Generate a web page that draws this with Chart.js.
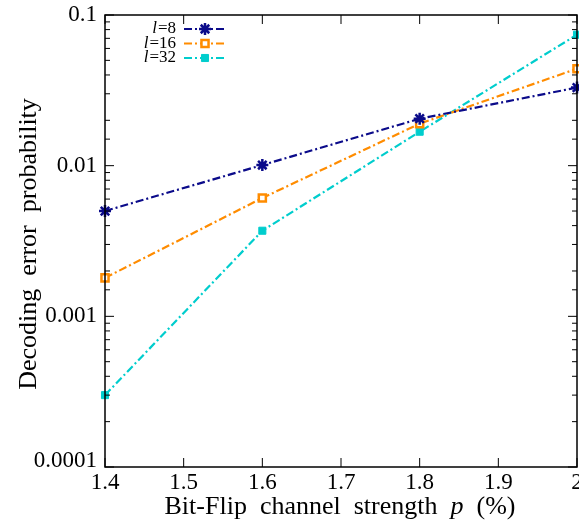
<!DOCTYPE html>
<html>
<head>
<meta charset="utf-8">
<script src="https://cdn.jsdelivr.net/npm/chart.js@4/dist/chart.umd.min.js"></script>
<style>
  html, body { margin: 0; padding: 0; background: #fff; }
  #wrap { width: 579px; height: 521px; }
</style>
</head>
<body>
<div id="wrap"><canvas id="chart" width="579" height="521"></canvas></div>
<script>
// values
const strengths = [1.4, 1.6, 1.8, 2.0];
const errL8 = [0.0050, 0.0101, 0.0205, 0.033];
const errL16 = [0.0018, 0.0061, 0.019, 0.044];
const errL32 = [0.0003, 0.0037, 0.0168, 0.074];
const seriesNames = ['8', '16', '32'];
const yTickLabels = { 0.1: '0.1', 0.01: '0.01', 0.001: '0.001', 0.0001: '0.0001' };

const serif = "'Liberation Serif', 'DejaVu Serif', serif";
const dashDot = [8, 3, 2, 3];

function toPoints(ys) {
    return strengths.map((x, i) => ({ x: x, y: ys[i] }));
}

const datasets = [
    { label: seriesNames[0], data: toPoints(errL8), borderColor: '#0b0b8a', backgroundColor: '#0b0b8a',
      pointStyle: 'star', pointRadius: 6, pointBorderWidth: 2.5 },
    { label: seriesNames[1], data: toPoints(errL16), borderColor: '#ff8c00', backgroundColor: '#ffffff',
      pointStyle: 'rect', pointRadius: 5, pointBorderWidth: 2.5 },
    { label: seriesNames[2], data: toPoints(errL32), borderColor: '#00cdcd', backgroundColor: '#00cdcd',
      pointStyle: 'rect', pointRadius: 5, pointBorderWidth: 1 }
];
datasets.forEach(d => {
    d.borderWidth = 2.2;
    d.borderDash = dashDot;
    d.fill = false;
    d.tension = 0;
    d.pointBorderColor = d.borderColor;
    d.pointBackgroundColor = d.backgroundColor;
});

// box, inward ticks on all four sides and the tick labels
const frame = {
    id: 'frame',
    afterDraw(chart) {
        const c = chart.ctx;
        const a = chart.chartArea;
        const xs = chart.scales.x, ys = chart.scales.y;
        c.save();
        c.strokeStyle = '#000';
        c.lineWidth = 1.5;
        c.strokeRect(a.left, a.top, a.right - a.left, a.bottom - a.top);
        c.lineWidth = 1;
        c.beginPath();
        xs.ticks.forEach(t => {
            const px = xs.getPixelForValue(t.value);
            c.moveTo(px, a.bottom); c.lineTo(px, a.bottom - 9);
            c.moveTo(px, a.top); c.lineTo(px, a.top + 9);
        });
        ys.ticks.forEach(t => {
            const py = ys.getPixelForValue(t.value);
            const major = yTickLabels[t.value] !== undefined;
            const len = major ? 9 : 5;
            c.moveTo(a.left, py); c.lineTo(a.left + len, py);
            c.moveTo(a.right, py); c.lineTo(a.right - len, py);
        });
        c.stroke();

        c.fillStyle = '#000';
        c.font = '23px ' + serif;
        c.textBaseline = 'middle';
        c.textAlign = 'right';
        ys.ticks.forEach(t => {
            const txt = yTickLabels[t.value];
            if (txt === undefined) return;
            const py = Math.min(ys.getPixelForValue(t.value), a.bottom - 6);
            c.fillText(txt, a.left - 8, py);
        });
        c.textAlign = 'center';
        xs.ticks.forEach(t => {
            const txt = Math.abs(t.value - 2) < 1e-9 ? '2' : t.value.toFixed(1);
            c.fillText(txt, xs.getPixelForValue(t.value), a.bottom + 16);
        });
        c.restore();
    }
};

// axis titles drawn by hand so the p can be italic
const titles = {
    id: 'titles',
    afterDraw(chart) {
        const c = chart.ctx;
        c.save();
        c.fillStyle = '#000';
        c.textBaseline = 'middle';
        const parts = [['Bit-Flip  channel  strength  ', ''], ['p', 'italic '], ['  (%)', '']];
        const size = '26px ';
        let total = 0;
        parts.forEach(p => { c.font = p[1] + size + serif; total += c.measureText(p[0]).width; });
        let x = 340 - total / 2;
        c.textAlign = 'left';
        parts.forEach(p => {
            c.font = p[1] + size + serif;
            c.fillText(p[0], x, 507);
            x += c.measureText(p[0]).width;
        });
        c.translate(29, 244);
        c.rotate(-Math.PI / 2);
        c.textAlign = 'center';
        c.font = size + serif;
        c.fillText('Decoding  error  probability', 0, 0);
        c.restore();
    }
};

// gnuplot-style key: label right aligned, then the line sample with its marker
const key = {
    id: 'key',
    afterDraw(chart) {
        const c = chart.ctx;
        c.save();
        chart.data.datasets.forEach((d, i) => {
            const y = 29 + i * 14.5;
            c.font = '17px ' + serif;
            c.fillStyle = '#000';
            c.textBaseline = 'middle';
            c.textAlign = 'right';
            const rest = '=' + d.label;
            c.fillText(rest, 176, y);
            const w = c.measureText(rest).width;
            c.font = 'italic 17px ' + serif;
            c.fillText('l', 176 - w - 1, y);
            c.strokeStyle = d.borderColor;
            c.lineWidth = 2.2;
            c.setLineDash(dashDot);
            c.beginPath();
            c.moveTo(184, y); c.lineTo(227, y);
            c.stroke();
            c.setLineDash([]);
            c.fillStyle = d.pointBackgroundColor;
            c.strokeStyle = d.pointBorderColor;
            c.lineWidth = d.pointBorderWidth;
            Chart.helpers.drawPoint(c, {
                pointStyle: d.pointStyle, radius: d.pointRadius, borderWidth: d.pointBorderWidth, rotation: 0
            }, 205, y);
        });
        c.restore();
    }
};

new Chart(document.getElementById('chart'), {
    type: 'line',
    data: { datasets: datasets },
    options: {
        responsive: false,
        animation: false,
        clip: false,
        layout: { autoPadding: false, padding: { top: 15, right: 2, left: 0, bottom: 0 } },
        plugins: { legend: { display: false }, tooltip: { enabled: false } },
        scales: {
            x: {
                type: 'linear',
                min: 1.4, max: 2.0,
                grid: { display: false, drawTicks: false },
                border: { display: false },
                ticks: { stepSize: 0.1, display: false },
                afterFit: s => { s.height = 54; }
            },
            y: {
                type: 'logarithmic',
                min: 0.0001, max: 0.1,
                grid: { display: false, drawTicks: false },
                border: { display: false },
                ticks: { autoSkip: false, display: false },
                afterFit: s => { s.width = 105; }
            }
        }
    },
    plugins: [frame, titles, key]
});
</script>
</body>
</html>
